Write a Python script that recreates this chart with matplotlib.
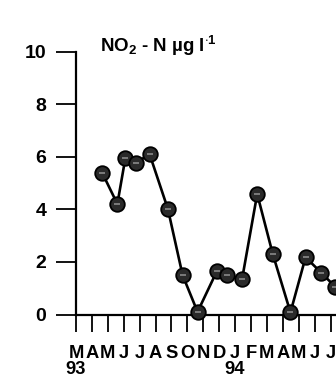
import matplotlib
matplotlib.use('Agg')
import matplotlib.pyplot as plt

#%% data (months counted from March 1993)
month_pos = [1.66, 2.60, 3.10, 3.76, 4.62, 5.78, 6.70, 7.64, 8.87, 9.50,
             10.44, 11.39, 12.37, 13.48, 14.43, 15.42, 16.30]
no2_n = [5.38, 4.21, 5.95, 5.76, 6.12, 4.01, 1.50, 0.10, 1.67, 1.50,
         1.35, 4.59, 2.30, 0.08, 2.18, 1.59, 1.05]
month_labels = ['M\n93', 'A', 'M', 'J', 'J', 'A', 'S', 'O', 'N', 'D',
                'J\n94', 'F', 'M', 'A', 'M', 'J', 'J']
y_ticks = [0, 2, 4, 6, 8, 10]

#%% plot
plt.rcParams['font.family'] = ['Liberation Sans', 'DejaVu Sans']
plt.rcParams['font.weight'] = 'bold'
plt.rcParams['mathtext.fontset'] = 'custom'
plt.rcParams['mathtext.rm'] = 'Liberation Sans:bold'
plt.rcParams['mathtext.it'] = 'Liberation Sans:bold'

fig = plt.figure(figsize=(3.36, 3.82), dpi=100)
ax = fig.add_axes([76/336, 67.5/382, 280/336, 262.5/382])

ax.plot(month_pos, no2_n, color='black', lw=1.9, zorder=2, clip_on=False)
ax.plot(month_pos, no2_n, 'o', ms=10.5, mfc='#2a2a2a', mec='black', mew=1.3,
        zorder=3, clip_on=False)
ax.plot(month_pos, no2_n, '_', ms=5, color='#8a8a8a', mew=1.2, zorder=4,
        clip_on=False)

ax.set_xlim(0, 17.6)
ax.set_ylim(0, 10)
ax.set_xticks(range(len(month_labels)))
ax.set_xticklabels(month_labels, linespacing=0.9)
ax.set_yticks(y_ticks)

for s in ['top', 'right']:
    ax.spines[s].set_visible(False)
for s in ['left', 'bottom']:
    ax.spines[s].set_linewidth(1.6)

ax.tick_params(axis='y', direction='out', length=14.5, width=1.3, pad=7,
               labelsize=14)
ax.tick_params(axis='x', direction='out', length=12, width=1.3, pad=10,
               labelsize=13.2)

fig.text(100/336, 1 - 52/382, r'NO$_2$ - N µg l$^{\cdot 1}$', fontsize=13.5,
         fontweight='bold', ha='left', va='baseline')

plt.savefig('out.png', dpi=100)
